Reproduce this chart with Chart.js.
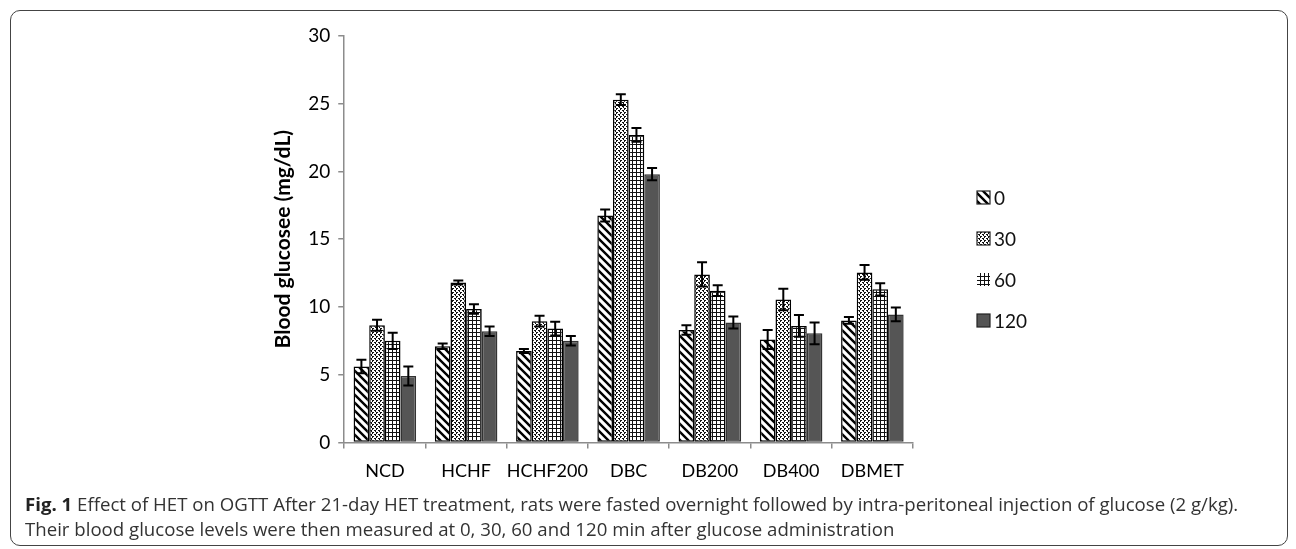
<!DOCTYPE html>
<html>
<head>
<meta charset="utf-8">
<script src="https://cdn.jsdelivr.net/npm/chart.js@4.4.1/dist/chart.umd.min.js"></script>
<style>
    html, body { margin: 0; padding: 0; background: #fff; }
    body { width: 1296px; height: 549px; position: relative; overflow: hidden; }
    .card {
        position: absolute; left: 10px; top: 10px; width: 1278px; height: 536px;
        border: 1.5px solid #444; border-radius: 10px; box-sizing: border-box;
    }
    .chart-box { position: absolute; left: 0; top: 0; width: 1296px; height: 494px; }
    .caption {
        position: absolute; left: 25px; top: 491px;
        font-family: "Open Sans", sans-serif; font-size: 17px; line-height: 25px; color: #333;
        white-space: nowrap;
    }
    .caption b { color: #222; }
</style>
</head>
<body>
<div class="card"></div>
<div class="chart-box"><canvas id="ogttChart"></canvas></div>
<div class="caption"><span id="capLine1"><b>Fig. 1</b> Effect of HET on OGTT After 21-day HET treatment, rats were fasted overnight followed by intra-peritoneal injection of glucose (2 g/kg).</span><br>Their blood glucose levels were then measured at 0, 30, 60 and 120 min after glucose administration</div>
<script>
// ── Data ──
var groups = ['NCD', 'HCHF', 'HCHF200', 'DBC', 'DB200', 'DB400', 'DBMET'];
var timePoints = ['0', '30', '60', '120'];
var glucose0   = [5.6, 7.1, 6.75, 16.75, 8.3, 7.6, 9.0];
var glucose30  = [8.65, 11.8, 8.95, 25.3, 12.4, 10.55, 12.55];
var glucose60  = [7.5, 9.85, 8.4, 22.7, 11.2, 8.6, 11.3];
var glucose120 = [4.9, 8.2, 7.5, 19.8, 8.85, 8.05, 9.45];
var err0   = [0.5, 0.2, 0.15, 0.45, 0.35, 0.7, 0.25];
var err30  = [0.4, 0.15, 0.4, 0.4, 0.9, 0.8, 0.55];
var err60  = [0.6, 0.35, 0.5, 0.5, 0.4, 0.8, 0.45];
var err120 = [0.7, 0.35, 0.35, 0.45, 0.45, 0.8, 0.5];
var yTicks = [0, 5, 10, 15, 20, 25, 30];

var FONT = 'Lato, "Open Sans", sans-serif';

// stretch the caption so its first line spans the card like the original
var capW = document.getElementById('capLine1').getBoundingClientRect().width;
document.querySelector('.caption').style.fontSize = (17 * 1214 / capW).toFixed(2) + 'px';

function makePattern(kind) {
    var c = document.createElement('canvas');
    var g = c.getContext('2d');
    if (kind === 'diag') {
        c.width = c.height = 8;
        g.fillStyle = '#fff'; g.fillRect(0, 0, 8, 8);
        g.strokeStyle = '#000'; g.lineWidth = 2.4;
        g.beginPath();
        g.moveTo(-2, -2); g.lineTo(10, 10);
        g.moveTo(-2, 6); g.lineTo(2, 10);
        g.moveTo(6, -2); g.lineTo(10, 2);
        g.stroke();
    } else if (kind === 'dots') {
        c.width = c.height = 4;
        g.fillStyle = '#fff'; g.fillRect(0, 0, 4, 4);
        g.fillStyle = '#111';
        g.fillRect(0, 0, 2, 1); g.fillRect(0, 1, 1, 1);
        g.fillRect(2, 2, 2, 1); g.fillRect(3, 3, 1, 1);
    } else {
        c.width = c.height = 4;
        g.fillStyle = '#fff'; g.fillRect(0, 0, 4, 4);
        g.fillStyle = '#111';
        g.fillRect(0, 0, 4, 1);
        g.fillRect(0, 0, 1, 4);
    }
    return document.createElement('canvas').getContext('2d').createPattern(c, 'repeat');
}

var fills = [makePattern('diag'), makePattern('dots'), makePattern('grid'), '#555555'];
var borders = ['#000', '#000', '#000', '#333'];
var seriesValues = [glucose0, glucose30, glucose60, glucose120];
var seriesErrors = [err0, err30, err60, err120];

// ── Error bars ──
var errorBarPlugin = {
    id: 'errorBars',
    afterDatasetsDraw: function(chart) {
        var ctx = chart.ctx, yScale = chart.scales.y;
        ctx.save();
        ctx.strokeStyle = '#000';
        ctx.lineWidth = 2;
        chart.data.datasets.forEach(function(ds, i) {
            var meta = chart.getDatasetMeta(i);
            meta.data.forEach(function(bar, j) {
                var v = ds.data[j], e = seriesErrors[i][j];
                var top = yScale.getPixelForValue(v + e);
                var bot = yScale.getPixelForValue(v - e);
                ctx.beginPath();
                ctx.moveTo(bar.x, top); ctx.lineTo(bar.x, bot);
                ctx.moveTo(bar.x - 5, top); ctx.lineTo(bar.x + 5, top);
                ctx.moveTo(bar.x - 5, bot); ctx.lineTo(bar.x + 5, bot);
                ctx.stroke();
            });
        });
        ctx.restore();
    }
};

// ── Legend drawn beside the plot ──
var sideLegendPlugin = {
    id: 'sideLegend',
    afterDraw: function(chart) {
        var ctx = chart.ctx;
        var x0 = chart.chartArea.right + 64;
        var y0 = 198;
        ctx.save();
        chart.data.datasets.forEach(function(ds, i) {
            var cy = y0 + i * 41;
            ctx.fillStyle = ds.backgroundColor;
            ctx.fillRect(x0, cy - 7, 13, 13);
            ctx.strokeStyle = i === 2 ? 'rgba(0,0,0,0)' : '#222';
            ctx.lineWidth = 1.2;
            ctx.strokeRect(x0, cy - 7, 13, 13);
            ctx.fillStyle = '#111';
            ctx.font = '19px ' + FONT;
            ctx.textBaseline = 'middle';
            ctx.fillText(ds.label, x0 + 17, cy + 1);
        });
        ctx.restore();
    }
};

new Chart(document.getElementById('ogttChart').getContext('2d'), {
    type: 'bar',
    data: {
        labels: groups,
        datasets: timePoints.map(function(t, i) {
            return {
                label: t,
                data: seriesValues[i],
                backgroundColor: fills[i],
                borderColor: borders[i],
                borderWidth: 1.5,
                borderSkipped: false,
                categoryPercentage: 0.77,
                barPercentage: 1.0
            };
        })
    },
    options: {
        responsive: true,
        maintainAspectRatio: false,
        animation: false,
        devicePixelRatio: 1,
        layout: { padding: { left: 271, right: 383, top: 36, bottom: 0 } },
        plugins: {
            legend: { display: false },
            tooltip: { enabled: false }
        },
        scales: {
            x: {
                offset: true,
                grid: {
                    offset: true, drawOnChartArea: false, drawTicks: true, tickLength: 6,
                    color: '#8c8c8c', lineWidth: 1.5
                },
                border: { color: '#8c8c8c', width: 1.5 },
                ticks: {
                    color: '#000', font: { family: FONT, size: 18 }, padding: 12,
                    maxRotation: 0, minRotation: 0, autoSkip: false
                }
            },
            y: {
                min: 0, max: 30,
                afterBuildTicks: function(scale) {
                    scale.ticks = yTicks.map(function(v) { return { value: v }; });
                },
                grid: {
                    drawOnChartArea: false, drawTicks: true, tickLength: 6,
                    color: '#8c8c8c', lineWidth: 1.5
                },
                border: { color: '#8c8c8c', width: 1.5 },
                ticks: { color: '#000', font: { family: FONT, size: 19 }, padding: 8 },
                title: {
                    display: true,
                    text: 'Blood glucosee (mg/dL)',
                    color: '#000',
                    font: { family: FONT, size: 21, weight: 'bold' },
                    padding: { top: 0, bottom: 4 }
                }
            }
        }
    },
    plugins: [errorBarPlugin, sideLegendPlugin]
});
</script>
</body>
</html>
